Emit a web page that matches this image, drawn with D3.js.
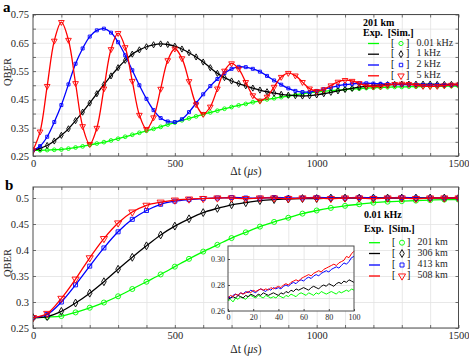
<!DOCTYPE html>
<html><head><meta charset="utf-8">
<script src="https://cdn.jsdelivr.net/npm/d3@7/dist/d3.min.js"></script>
<style>
html,body{margin:0;padding:0;background:#fff;}
svg{display:block;}
text{font-family:"Liberation Serif","Times New Roman",serif;}
</style></head><body>
<svg id="chart" width="469" height="357"></svg>
<script>
// ---------------- data ----------------
const timesA = d3.range(0, 1501, 25);           // Δt (μs), panel a sampling
const freqLabels = ["0.01 kHz", "1 kHz", "2 kHz", "5 kHz"];
const qberA_001 = [.270,.270,.271,.272,.273,.276,.280,.284,.289,.294,
  .299,.305,.311,.318,.325,.332,.339,.346,.353,.361,
  .368,.376,.383,.390,.397,.404,.410,.417,.423,.429,
  .434,.440,.445,.450,.454,.458,.462,.466,.470,.473,
  .476,.479,.481,.483,.485,.487,.488,.490,.491,.492,
  .493,.494,.494,.495,.495,.496,.496,.496,.497,.497,.497];
const qberA_1 = [.270,.277,.287,.303,.323,.346,.375,.405,.437,.470,
  .502,.533,.562,.588,.610,.625,.636,.643,.646,.644,
  .638,.628,.615,.600,.582,.562,.542,.527,.515,.506,
  .498,.490,.483,.477,.472,.468,.465,.463,.462,.463,
  .466,.470,.475,.480,.485,.489,.493,.496,.499,.501,
  .502,.503,.504,.504,.504,.504,.504,.503,.503,.503,.503];
const qberA_2 = [.270,.285,.318,.370,.430,.503,.576,.630,.672,.694,
  .700,.686,.652,.606,.553,.500,.452,.412,.384,.372,
  .370,.380,.405,.437,.468,.497,.522,.543,.558,.565,
  .564,.558,.548,.533,.517,.502,.489,.480,.476,.476,
  .480,.486,.492,.498,.502,.505,.507,.507,.506,.505,
  .504,.503,.502,.502,.502,.501,.501,.501,.501,.501,.501];
const qberA_5 = [.270,.336,.497,.657,.723,.660,.507,.355,.292,.349,
  .488,.627,.684,.634,.515,.395,.345,.386,.487,.588,
  .629,.595,.514,.432,.398,.424,.488,.551,.577,.558,
  .511,.464,.445,.459,.494,.529,.543,.534,.511,.488,
  .479,.485,.499,.512,.518,.515,.507,.498,.495,.496,
  .500,.504,.505,.504,.500,.497,.496,.497,.499,.501,.502];

const timesB = d3.range(0, 1501, 50);           // Δt (μs), panel b sampling
const distLabels = ["201 km", "306 km", "413 km", "508 km"];
const qberB_201 = [.270,.271,.273,.280,.289,.299,.311,.325,.339,.353,
  .368,.383,.397,.410,.423,.434,.445,.454,.462,.470,
  .476,.481,.485,.488,.491,.493,.494,.495,.496,.497,.497];
const qberB_306 = [.270,.272,.282,.298,.317,.339,.363,.386,.408,.429,
  .446,.460,.472,.480,.487,.491,.495,.497,.498,.499,
  .499,.500,.500,.500,.500,.500,.500,.500,.500,.500,.500];
const qberB_413 = [.270,.276,.300,.333,.369,.404,.435,.459,.476,.488,
  .494,.497,.499,.500,.501,.500,.500,.501,.500,.500,
  .501,.500,.500,.501,.500,.500,.501,.500,.500,.500,.500];
const qberB_508 = [.270,.278,.307,.344,.385,.422,.452,.473,.486,.492,
  .496,.498,.499,.500,.500,.499,.500,.500,.499,.500,
  .500,.499,.500,.500,.499,.500,.500,.499,.500,.500,.500];

const timesInset = d3.range(0, 101, 2);         // Δt (μs), inset
const insetB_201 = [0.268,0.269,0.267,0.270,0.269,0.271,0.270,0.269,0.271,0.272,
  0.271,0.270,0.272,0.271,0.270,0.272,0.271,0.270,0.271,0.270,
  0.272,0.271,0.270,0.272,0.271,0.273,0.272,0.271,0.273,0.274,
  0.273,0.272,0.274,0.273,0.272,0.274,0.273,0.275,0.274,0.273,
  0.274,0.275,0.274,0.273,0.275,0.274,0.275,0.276,0.275,0.277,0.276];
const insetB_306 = [0.269,0.270,0.271,0.270,0.272,0.271,0.270,0.272,0.271,0.273,
  0.272,0.271,0.273,0.272,0.274,0.273,0.272,0.273,0.274,0.273,
  0.272,0.274,0.273,0.275,0.274,0.276,0.275,0.277,0.276,0.277,
  0.278,0.277,0.276,0.278,0.279,0.278,0.277,0.279,0.280,0.279,
  0.281,0.280,0.279,0.281,0.282,0.281,0.283,0.282,0.284,0.283,0.282];
const insetB_413 = [0.271,0.270,0.272,0.273,0.272,0.274,0.273,0.275,0.274,0.276,
  0.275,0.274,0.276,0.277,0.276,0.275,0.277,0.276,0.278,0.277,
  0.278,0.277,0.279,0.280,0.279,0.281,0.282,0.281,0.283,0.284,
  0.283,0.285,0.286,0.285,0.287,0.288,0.287,0.289,0.290,0.291,
  0.290,0.292,0.293,0.294,0.293,0.295,0.297,0.296,0.298,0.301,0.302];
const insetB_508 = [0.270,0.272,0.271,0.273,0.272,0.274,0.273,0.274,0.275,0.274,
  0.276,0.275,0.276,0.277,0.276,0.277,0.276,0.278,0.277,0.278,
  0.279,0.278,0.280,0.281,0.280,0.282,0.283,0.284,0.283,0.285,
  0.286,0.287,0.288,0.287,0.289,0.290,0.291,0.290,0.292,0.293,
  0.294,0.295,0.296,0.295,0.297,0.298,0.299,0.302,0.301,0.304,0.306];

const yTicksA = [0.25, 0.35, 0.45, 0.55, 0.65, 0.75];
const yTicksB = [0.25, 0.3, 0.35, 0.4, 0.45, 0.5];
const xTicks = [0, 500, 1000, 1500];
const insetYTicks = [0.26, 0.28, 0.30];
const insetXTicks = [0, 20, 40, 60, 80, 100];

const seriesColors = ["#00ff00", "#000000", "#0000ff", "#ff0000"];
const seriesSymbols = ["circle", "diamond", "square", "triangleDown"];

// ---------------- drawing ----------------
const svg = d3.select("#chart");
const FRAME = "#4d4d4d", GRID = "#e2e2e2", TXT = "#262626";

function symbolPath(kind, size) {
  const t = {circle: d3.symbolCircle, diamond: d3.symbolDiamond, square: d3.symbolSquare,
             triangleDown: d3.symbolTriangle}[kind];
  return d3.symbol(t, size)();
}
function symTransform(kind, x, y) {
  return `translate(${x},${y})` + (kind === "triangleDown" ? " rotate(180)" : "");
}

function drawPanel(p) {
  const g = svg.append("g");
  const x = d3.scaleLinear().domain([0, 1500]).range([p.left, p.right]);
  const y = d3.scaleLinear().domain(p.yDomain).range([p.bottom, p.top]);
  const hgt = p.bottom - p.top, wid = p.right - p.left;

  g.append("g").attr("transform", `translate(0,${p.bottom})`)
    .call(d3.axisBottom(x).tickValues(d3.range(100, 1500, 100)).tickSize(-hgt).tickFormat(""))
    .call(s => { s.select(".domain").remove(); s.selectAll("line").attr("stroke", GRID).attr("stroke-width", 0.8); });
  g.append("g").attr("transform", `translate(${p.left},0)`)
    .call(d3.axisLeft(y).tickValues(p.gridY).tickSize(-wid).tickFormat(""))
    .call(s => { s.select(".domain").remove(); s.selectAll("line").attr("stroke", GRID).attr("stroke-width", 0.8); });

  const styleAxis = s => {
    s.select(".domain").remove();
    s.selectAll("line").attr("stroke", FRAME).attr("stroke-width", 0.8);
    s.selectAll("text").attr("fill", TXT).style("font-size", "10.5px")
      .style("font-family", '"Liberation Serif","Times New Roman",serif');
  };
  const xTickAll = d3.range(0, 1501, 100);
  g.append("g").attr("transform", `translate(0,${p.bottom})`)
    .call(d3.axisBottom(x).tickValues(xTickAll).tickSize(-3).tickPadding(4)
      .tickFormat(d => xTicks.includes(d) ? String(d) : ""))
    .call(styleAxis);
  g.append("g").attr("transform", `translate(0,${p.top})`)
    .call(d3.axisTop(x).tickValues(xTickAll).tickSize(-3).tickFormat(""))
    .call(styleAxis);
  g.append("g").attr("transform", `translate(${p.left},0)`)
    .call(d3.axisLeft(y).tickValues(p.gridY).tickSize(-3).tickPadding(4)
      .tickFormat(d => p.yLabels.some(v => Math.abs(v - d) < 1e-9) ? p.fmt(d) : ""))
    .call(styleAxis);
  g.append("g").attr("transform", `translate(${p.right},0)`)
    .call(d3.axisRight(y).tickValues(p.gridY).tickSize(-3).tickFormat(""))
    .call(styleAxis);

  const cid = "clip" + p.id;
  svg.append("clipPath").attr("id", cid).append("rect")
    .attr("x", p.left).attr("y", p.top).attr("width", wid).attr("height", hgt);
  const data = g.append("g").attr("clip-path", `url(#${cid})`);
  const line = d3.line().x(d => x(d[0])).y(d => y(d[1])).curve(d3.curveCatmullRom.alpha(0.5));

  p.series.forEach((vals, i) => {
    const pts = p.times.map((t, k) => [t, vals[k]]);
    data.append("path").datum(pts).attr("d", line)
      .attr("fill", "none").attr("stroke", seriesColors[i]).attr("stroke-width", 1.3);
    data.append("g").selectAll("path").data(pts).join("path")
      .attr("d", symbolPath(seriesSymbols[i], p.symSize[i]))
      .attr("transform", d => symTransform(seriesSymbols[i], x(d[0]), y(d[1])))
      .attr("fill", "none").attr("stroke", seriesColors[i]).attr("stroke-width", 0.9);
  });

  g.append("rect").attr("x", p.left).attr("y", p.top).attr("width", wid).attr("height", hgt)
    .attr("fill", "none").attr("stroke", FRAME).attr("stroke-width", 1);

  g.append("text").attr("transform", `translate(9,${p.qberY}) rotate(-90)`)
    .attr("text-anchor", "middle").attr("dominant-baseline", "middle")
    .attr("fill", TXT).style("font-size", "10.5px").text("QBER");
  const xt = g.append("text").attr("x", 246).attr("y", p.xLabelY).attr("text-anchor", "middle")
    .attr("dominant-baseline", "middle").attr("fill", TXT).style("font-size", "11.5px");
  xt.append("tspan").text("Δt (");
  xt.append("tspan").style("font-style", "italic").text("μs");
  xt.append("tspan").text(")");

  g.append("text").attr("x", p.letterX).attr("y", p.letterY).attr("fill", "#000")
    .style("font-size", "15px").style("font-weight", "bold").text(p.letter);

  const L = p.legend;
  g.append("text").attr("x", L.x).attr("y", L.y0).attr("dominant-baseline", "middle")
    .style("font-size", "10px").style("font-weight", "bold").attr("fill", "#000").text(L.title);
  g.append("text").attr("x", L.x).attr("y", L.y1).attr("dominant-baseline", "middle")
    .style("font-size", "10px").style("font-weight", "bold").attr("fill", "#000")
    .attr("xml:space", "preserve").text("Exp.  [Sim.]");
  L.labels.forEach((lab, i) => {
    const yy = L.yEntries[i];
    g.append("line").attr("x1", L.x + 5).attr("x2", L.x + 16).attr("y1", yy).attr("y2", yy)
      .attr("stroke", seriesColors[i]).attr("stroke-width", 1.3);
    g.append("text").attr("x", L.x + 28).attr("y", yy).attr("dominant-baseline", "middle")
      .style("font-size", "10px").attr("fill", "#000").text("[");
    g.append("path").attr("d", symbolPath(seriesSymbols[i], p.legSize[i]))
      .attr("transform", symTransform(seriesSymbols[i], L.x + 38, yy))
      .attr("fill", "none").attr("stroke", seriesColors[i]).attr("stroke-width", 0.9);
    g.append("text").attr("x", L.x + 43).attr("y", yy).attr("dominant-baseline", "middle")
      .style("font-size", "10px").attr("fill", "#000").text("]");
    g.append("text").attr("x", L.x + 53.5).attr("y", yy).attr("dominant-baseline", "middle")
      .style("font-size", "10px").attr("fill", TXT).text(lab);
  });
  return {x, y, g};
}

drawPanel({
  id: "a", left: 33, right: 458.5, top: 14.5, bottom: 156, yDomain: [0.25, 0.75],
  gridY: d3.range(0, 11).map(i => 0.25 + i * 0.05), yLabels: yTicksA, fmt: d3.format(".2f"),
  times: timesA, series: [qberA_001, qberA_1, qberA_2, qberA_5],
  symSize: [11, 11, 9, 14], legSize: [14, 14, 12, 18],
  qberY: 72, xLabelY: 172, letter: "a", letterX: 3, letterY: 12,
  legend: {x: 363, y0: 23.5, y1: 33.5, yEntries: [43.5, 54.2, 65, 75.8], title: "201 km", labels: freqLabels}
});

drawPanel({
  id: "b", left: 33, right: 458.5, top: 187, bottom: 328, yDomain: [0.25, 0.5212],
  gridY: yTicksB, yLabels: yTicksB, fmt: d => String(d),
  times: timesB, series: [qberB_201, qberB_306, qberB_413, qberB_508],
  symSize: [20, 18, 16, 22], legSize: [20, 18, 16, 22],
  qberY: 263, xLabelY: 350, letter: "b", letterX: 5, letterY: 190,
  legend: {x: 364, y0: 215.5, y1: 230, yEntries: [242.7, 253.5, 265, 276], title: "0.01 kHz", labels: distLabels}
});

// ---------------- inset ----------------
(function () {
  const L = 228, R = 354, T = 246, B = 311;
  const g = svg.append("g");
  const x = d3.scaleLinear().domain([0, 100]).range([L, R]);
  const y = d3.scaleLinear().domain([0.26, 0.31]).range([B, T]);
  g.append("rect").attr("x", L).attr("y", T).attr("width", R - L).attr("height", B - T).attr("fill", "#fff");
  g.append("g").attr("transform", `translate(0,${B})`)
    .call(d3.axisBottom(x).tickValues([20, 40, 60, 80]).tickSize(-(B - T)).tickFormat(""))
    .call(s => { s.select(".domain").remove(); s.selectAll("line").attr("stroke", GRID).attr("stroke-width", 0.8); });
  g.append("g").attr("transform", `translate(${L},0)`)
    .call(d3.axisLeft(y).tickValues([0.27, 0.28, 0.29, 0.30]).tickSize(-(R - L)).tickFormat(""))
    .call(s => { s.select(".domain").remove(); s.selectAll("line").attr("stroke", GRID).attr("stroke-width", 0.8); });
  const st = s => {
    s.select(".domain").remove();
    s.selectAll("line").attr("stroke", FRAME);
    s.selectAll("text").attr("fill", TXT).style("font-size", "8px")
      .style("font-family", '"Liberation Serif","Times New Roman",serif');
  };
  g.append("g").attr("transform", `translate(0,${B})`)
    .call(d3.axisBottom(x).tickValues(insetXTicks).tickSize(-2).tickPadding(3).tickFormat(d => String(d))).call(st);
  g.append("g").attr("transform", `translate(${L},0)`)
    .call(d3.axisLeft(y).tickValues(insetYTicks).tickSize(-2).tickPadding(3).tickFormat(d3.format(".2f"))).call(st);
  const line = d3.line().x(d => x(d[0])).y(d => y(d[1]));
  [insetB_201, insetB_306, insetB_413, insetB_508].forEach((vals, i) => {
    g.append("path").datum(timesInset.map((t, k) => [t, vals[k]])).attr("d", line)
      .attr("fill", "none").attr("stroke", seriesColors[i]).attr("stroke-width", 1);
  });
  g.append("rect").attr("x", L).attr("y", T).attr("width", R - L).attr("height", B - T)
    .attr("fill", "none").attr("stroke", FRAME).attr("stroke-width", 1);
})();
</script>
</body></html>
